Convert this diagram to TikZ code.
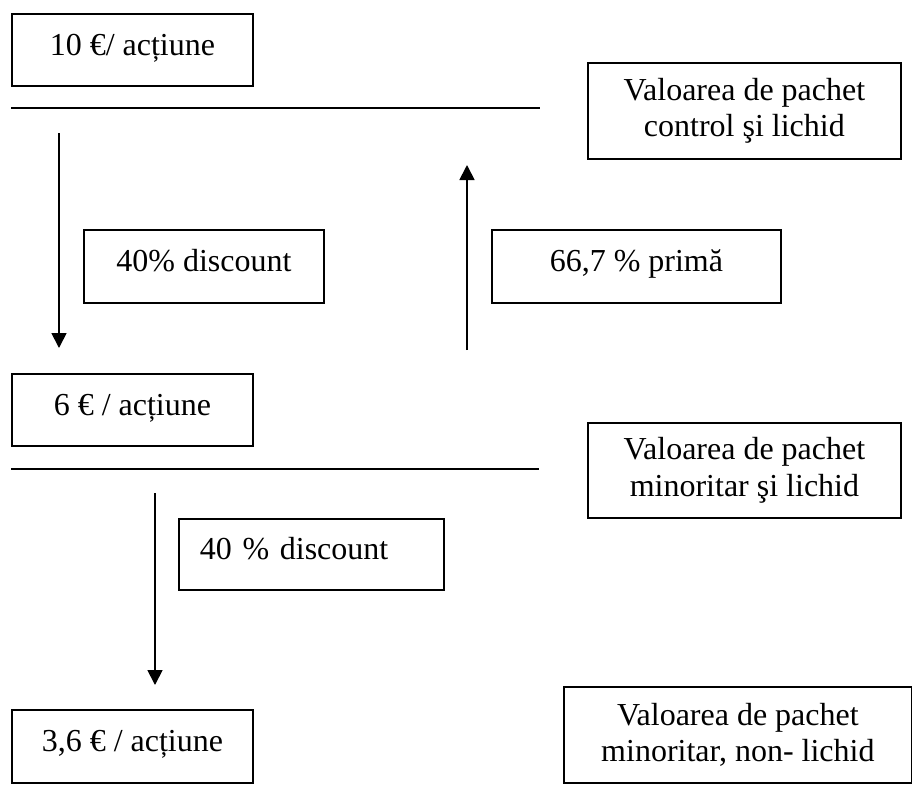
\documentclass[tikz,border=0pt]{standalone}
\usepackage{fontspec}
\setmainfont{Liberation Serif}
\usetikzlibrary{arrows.meta,positioning}
\tikzset{
  >={Triangle[length=15pt,width=15pt]},
  valbox/.style={draw,line width=1.8pt,inner sep=0pt,anchor=north west,
    font=\fontsize{32pt}{36.5pt}\selectfont},
  onerow/.style={valbox,text height=22pt,text depth=11pt},
  tworow/.style={valbox,align=center},
  rule/.style={line width=2.6pt},
  flow/.style={->,line width=1.8pt}
}

\begin{document}
\begin{tikzpicture}[x=1pt,y=-1pt]
  \useasboundingbox (0,0) rectangle (912,801);
  % prices on the left
  \node[onerow,minimum width=241pt,minimum height=72pt] (p10) at (11,13) {10 €/ acțiune};
  \node[onerow,minimum width=241pt,minimum height=72pt] (p6) at (11,373) {6 € / acțiune};
  \node[onerow,minimum width=241pt,minimum height=73pt] (p36) at (11,709) {3,6 € / acțiune};
  % adjustments
  \node[onerow,minimum width=240pt,minimum height=73pt] (disc1) at (83,229) {40\% discount};
  \node[onerow,minimum width=289pt,minimum height=73pt] (prima) at (491,229) {66,7 \% primă};
  \node[onerow,text width=223pt,inner xsep=21pt,align=left,minimum height=71pt] (disc2) at (178,518) {40 \% discount};
  % levels of value
  \node[tworow,minimum width=313pt,minimum height=96pt] (ctrl) at (587,62) {Valoarea de pachet\\control şi lichid};
  \node[tworow,minimum width=313pt,minimum height=95pt] (minliq) at (587,422) {Valoarea de pachet\\minoritar şi lichid};
  \node[tworow,minimum width=348pt,minimum height=96pt] (minill) at (563,686) {Valoarea de pachet\\minoritar, non- lichid};
  % separators
  \coordinate (r1w) at (11,108);  \coordinate (r1e) at (540,108);
  \coordinate (r2w) at (11,469);  \coordinate (r2e) at (539,469);
  \draw[rule] (r1w) -- (r1e);
  \draw[rule] (r2w) -- (r2e);
  % arrows
  \coordinate (d1s) at (59,133);  \coordinate (d1e) at (59,348);
  \coordinate (u1s) at (467,350); \coordinate (u1e) at (467,165);
  \coordinate (d2s) at (155,493); \coordinate (d2e) at (155,685);
  \draw[flow] (d1s) -- (d1e);
  \draw[flow] (u1s) -- (u1e);
  \draw[flow] (d2s) -- (d2e);
\end{tikzpicture}
\end{document}
